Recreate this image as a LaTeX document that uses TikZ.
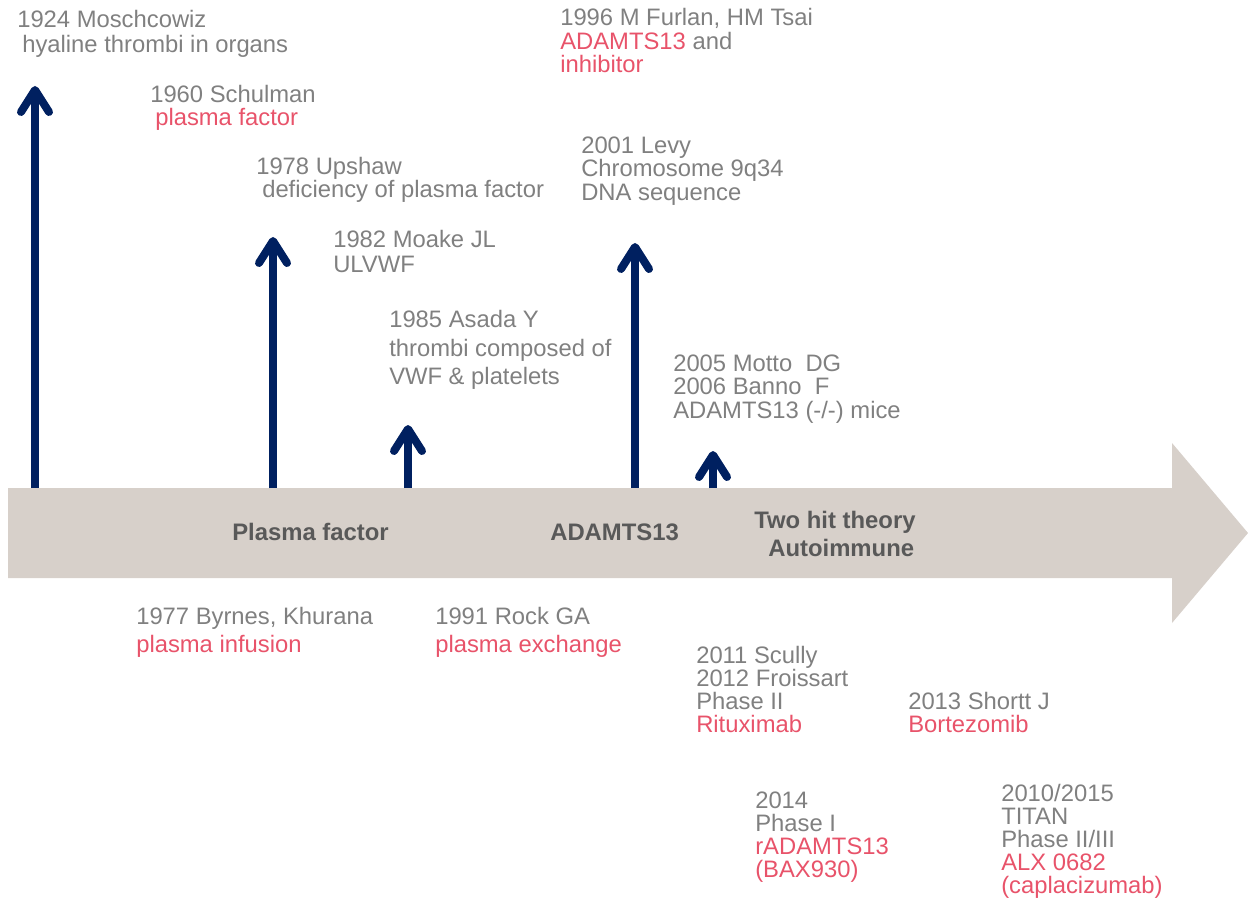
\documentclass[tikz,border=0pt]{standalone}
\usepackage{fontspec}
\setmainfont{Liberation Sans}
\definecolor{tgray}{HTML}{808080}
\definecolor{tred}{HTML}{E8536A}
\definecolor{tdark}{HTML}{595959}
\definecolor{navy}{HTML}{002060}
\definecolor{band}{HTML}{D7D0CA}
\begin{document}
\begin{tikzpicture}[x=0.75pt,y=-0.75pt,
  gtxt/.style={anchor=base west, inner sep=0pt, font=\fontsize{17.85}{20}\selectfont, text=tgray},
  rtxt/.style={gtxt, text=tred},
  btxt/.style={anchor=base west, inner sep=0pt, font=\fontsize{17.9}{20}\selectfont\bfseries, text=tdark},
  shaft/.style={draw=navy, line width=6pt, line cap=butt},
  head/.style={draw=navy, line width=6pt, line cap=round, line join=round}]
\useasboundingbox (0,0) rectangle (1248,898);
% timeline band
\fill[band] (8,488) -- (1172,488) -- (1172,443) -- (1248,533) -- (1172,623) -- (1172,578) -- (8,578) -- cycle;
% arrow coordinates
\coordinate (b1) at (35,488);  \coordinate (t1) at (35,90);
\coordinate (b2) at (273,488); \coordinate (t2) at (273,241);
\coordinate (b3) at (408,488); \coordinate (t3) at (408,429);
\coordinate (b4) at (635,488); \coordinate (t4) at (635,247);
\coordinate (b5) at (713,488); \coordinate (t5) at (713,455);
\foreach \i in {1,...,5}{
  \draw[shaft] (b\i) -- (t\i);
  \draw[head] (t\i) ++(-14,22) -- (t\i) -- ++(14,22);
}
% above the band
\node[gtxt] (a1) at (17,28) {1924 Moschcowiz};
\node[gtxt] (a2) at (22,53) {hyaline thrombi in organs};
\node[gtxt] (c1) at (150,103) {1960 Schulman};
\node[rtxt] (c2) at (155,126) {plasma factor};
\node[gtxt] (d1) at (256,175) {1978 Upshaw};
\node[gtxt] (d2) at (262,198) {deficiency of plasma factor};
\node[gtxt] (e1) at (333,248) {1982 Moake JL};
\node[gtxt] (e2) at (333,273) {ULVWF};
\node[gtxt] (f1) at (389,328) {1985 Asada Y};
\node[gtxt] (f2) at (389,356) {thrombi composed of};
\node[gtxt] (f3) at (389,384) {VWF \& platelets};
\node[gtxt] (g1) at (560,26) {1996 M Furlan, HM Tsai};
\node[gtxt] (g2) at (560,50) {{\color{tred}ADAMTS13} and};
\node[rtxt] (g3) at (560,73) {inhibitor};
\node[gtxt] (h1) at (581,154) {2001 Levy};
\node[gtxt] (h2) at (581,177) {Chromosome 9q34};
\node[gtxt] (h3) at (581,201) {DNA sequence};
\node[gtxt] (i1) at (673,371) {2005 Motto~~DG};
\node[gtxt] (i2) at (673,394) {2006 Banno~~F};
\node[gtxt] (i3) at (673,418) {ADAMTS13 (-/-) mice};
% on the band
\node[btxt] (p1) at (232,540) {Plasma factor};
\node[btxt] (p2) at (550,540) {ADAMTS13};
\node[btxt] (p3) at (754,528) {Two hit theory};
\node[btxt] (p4) at (768,556) {Autoimmune};
% below the band
\node[gtxt] (j1) at (136,624) {1977 Byrnes, Khurana};
\node[rtxt] (j2) at (136,652) {plasma infusion};
\node[gtxt] (k1) at (435,624) {1991 Rock GA};
\node[rtxt] (k2) at (435,652) {plasma exchange};
\node[gtxt] (l1) at (696,663) {2011 Scully};
\node[gtxt] (l2) at (696,686) {2012 Froissart};
\node[gtxt] (l3) at (696,709) {Phase II};
\node[rtxt] (l4) at (696,732) {Rituximab};
\node[gtxt] (m1) at (908,709) {2013 Shortt J};
\node[rtxt] (m2) at (908,732) {Bortezomib};
\node[gtxt] (n1) at (755,808) {2014};
\node[gtxt] (n2) at (755,831) {Phase I};
\node[rtxt] (n3) at (755,854) {rADAMTS13};
\node[rtxt] (n4) at (755,877) {(BAX930)};
\node[gtxt] (o1) at (1001,801) {2010/2015};
\node[gtxt] (o2) at (1001,824) {TITAN};
\node[gtxt] (o3) at (1001,847) {Phase II/III};
\node[rtxt] (o4) at (1001,870) {ALX 0682};
\node[rtxt] (o5) at (1001,893) {(caplacizumab)};
\end{tikzpicture}
\end{document}
